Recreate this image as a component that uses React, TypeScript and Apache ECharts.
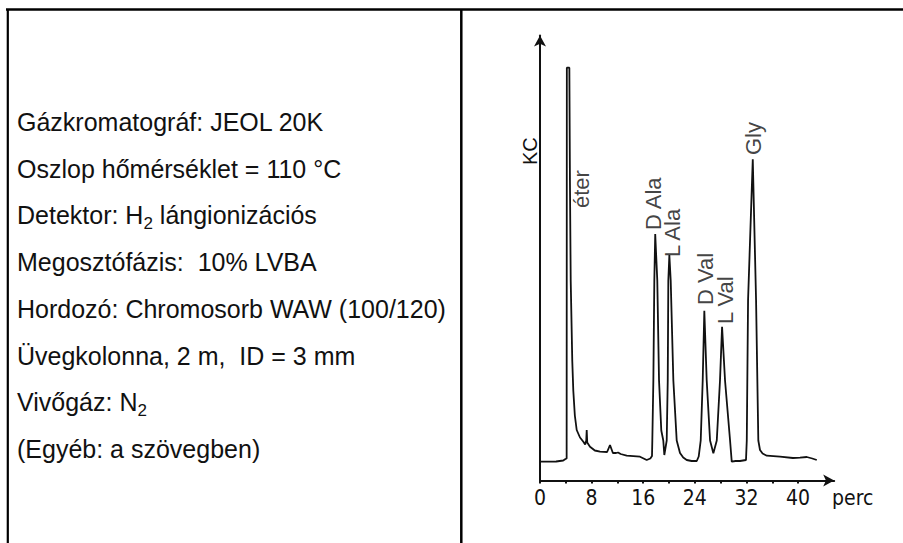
import React, { useEffect, useRef } from 'react';
import * as echarts from 'echarts';

// ---- data ----
const retentionTimes = [
  0, 2.5, 3.6, 3.95, 4.13, 4.16, 4.55, 4.64, 4.76, 5.0, 5.16, 5.4, 5.69, 6.2, 6.72, 7.0, 7.17, 7.24, 7.32, 7.75,
  8.5, 9.3, 10.4, 10.85, 11.3, 11.8, 12.1, 12.5, 13.44, 15.5, 16.54, 17.1, 17.36, 17.41, 17.57, 17.72, 17.86,
  18.18, 18.45, 18.8, 19.11, 19.27, 19.64, 19.8, 19.89, 20.05, 20.26, 20.67, 21.19, 21.7, 22.2, 22.74, 23.5,
  24.3, 24.6, 24.91, 25.22, 25.47, 25.84, 26.36, 26.87, 27.4, 27.9, 28.22, 28.68, 29.46, 29.72, 30.3, 31.0,
  31.93, 32.05, 32.25, 32.98, 33.49, 33.84, 34.1, 34.5, 35.15, 37.2, 39.2, 40.3, 41.35, 42.2, 42.9,
];
const detectorSignal = [
  18.8, 19.0, 20.0, 21.5, 22, 412.8, 412.8, 300, 200, 120, 90, 65, 50.5, 43, 38.8, 36, 40, 50.5, 38, 33.8,
  30, 28.8, 28.5, 35.5, 27.5, 27.5, 28, 26.5, 24.8, 23.8, 20.5, 22, 24.5, 40, 100, 200, 246.5,
  200, 100, 50, 40, 25.5, 40, 100, 200, 225.5, 200, 100, 40, 27.5, 23, 20.5, 19.5,
  19.5, 24, 40, 100, 169.8, 100, 40, 27.2, 40, 100, 153.8, 100, 40, 18.8, 19.5, 19.5,
  20.5, 40, 180.5, 321.2, 180.5, 40, 30.5, 27, 24.8, 23.8, 22.5, 22.8, 23.5, 22, 20.5,
];
const peakNames = ['éter', 'D Ala', 'L Ala', 'D Val', 'L Val', 'Gly'];
const peakLabelTimes = [6.43, 17.67, 20.61, 25.58, 28.83, 33.17];
const peakLabelSignals = [272.5, 250.5, 223.5, 175.5, 156.5, 325.5];
const xTickLabels = [0, 8, 16, 24, 32, 40];
const xAxisName = 'perc';
const yAxisName = 'KC';
// each line: [normal, subscript, normal, ...]
const infoLines: string[][] = [
  ['Gázkromatográf: JEOL 20K'],
  ['Oszlop hőmérséklet = 110 °C'],
  ['Detektor: H', '2', ' lángionizációs'],
  ['Megosztófázis:  10% LVBA'],
  ['Hordozó: Chromosorb WAW (100/120)'],
  ['Üvegkolonna, 2 m,  ID = 3 mm'],
  ['Vivőgáz: N', '2'],
  ['(Egyéb: a szövegben)'],
];

const INK = '#111';
const SANS = '"Liberation Sans", Arial, Helvetica, sans-serif';
const NARROW = '"Liberation Sans Narrow", "DejaVu Sans Condensed", "Liberation Sans", sans-serif';

export default function App() {
  const ref = useRef<HTMLDivElement>(null);
  useEffect(() => {
    if (!ref.current) return;
    const chart = echarts.init(ref.current, undefined, { renderer: 'svg' });

    const canvas = document.createElement('canvas');
    const ctx = canvas.getContext('2d')!;
    const mainSize = 25;
    const subSize = 17;
    const measure = (t: string, size: number) => {
      ctx.font = `${size}px ${SANS}`;
      return ctx.measureText(t).width;
    };

    const textEls: any[] = [];
    infoLines.forEach((segs, i) => {
      const cy = 122 + i * 46.7;
      let x = 17;
      segs.forEach((s, j) => {
        const sub = j % 2 === 1;
        const size = sub ? subSize : mainSize;
        textEls.push({
          type: 'text',
          x,
          y: sub ? cy + 8 : cy,
          style: {
            text: s,
            fill: INK,
            font: `${size}px ${SANS}`,
            align: 'left',
            verticalAlign: 'middle',
          },
        });
        x += measure(s, size);
      });
    });

    const pxPerMin = 6.4516;
    const left = 540;
    const top = 35.5;
    const bottom = 62.5;
    const maxT = 45.6;

    const option: any = {
      animation: false,
      grid: [
        { left, top, bottom, width: maxT * pxPerMin },
        { left, top, bottom, width: 40 * pxPerMin },
      ],
      xAxis: [
        {
          gridIndex: 0,
          type: 'value',
          min: 0,
          max: maxT,
          axisLine: { show: true, lineStyle: { color: INK, width: 2 }, symbol: ['none', 'arrow'], symbolSize: [9, 11] },
          axisTick: { show: false },
          axisLabel: { show: false },
          splitLine: { show: false },
        },
        {
          gridIndex: 1,
          type: 'value',
          min: 0,
          max: 40,
          interval: 4,
          axisLine: { show: false },
          axisTick: { show: true, length: 3, lineStyle: { color: INK, width: 2 } },
          axisLabel: {
            color: INK,
            fontSize: 21,
            fontFamily: NARROW,
            margin: 7,
            formatter: (v: number) => (xTickLabels.includes(v) ? String(v) : ''),
          },
          splitLine: { show: false },
          name: xAxisName,
          nameLocation: 'end',
          nameGap: 34,
          nameTextStyle: { color: INK, fontSize: 21, fontFamily: NARROW, verticalAlign: 'top', padding: [7, 0, 0, 0] },
        },
      ],
      yAxis: [
        {
          gridIndex: 0,
          type: 'value',
          min: 0,
          max: 445,
          axisLine: { show: true, lineStyle: { color: INK, width: 2 }, symbol: ['none', 'arrow'], symbolSize: [9, 11] },
          axisTick: { show: false },
          axisLabel: { show: false },
          splitLine: { show: false },
        },
        { gridIndex: 1, type: 'value', min: 0, max: 445, show: false },
      ],
      series: [
        {
          type: 'line',
          xAxisIndex: 0,
          yAxisIndex: 0,
          data: retentionTimes.map((t, i) => [t, detectorSignal[i]]),
          showSymbol: false,
          symbol: 'none',
          lineStyle: { color: INK, width: 1.8 },
          silent: true,
        },
        {
          type: 'scatter',
          xAxisIndex: 0,
          yAxisIndex: 0,
          symbolSize: 0,
          data: peakNames.map((n, i) => ({ name: n, value: [peakLabelTimes[i], peakLabelSignals[i]] })),
          label: {
            show: true,
            position: 'inside',
            formatter: '{b}',
            rotate: 90,
            align: 'left',
            verticalAlign: 'middle',
            color: INK,
            fontSize: 22,
            fontFamily: SANS,
          },
          silent: true,
        },
      ],
      graphic: [
        { type: 'line', shape: { x1: 6, y1: 9.5, x2: 903, y2: 9.5 }, style: { stroke: '#000', lineWidth: 2.5 } },
        { type: 'line', shape: { x1: 7.8, y1: 9, x2: 7.8, y2: 543 }, style: { stroke: '#000', lineWidth: 2.2 } },
        { type: 'line', shape: { x1: 461.3, y1: 9, x2: 461.3, y2: 543 }, style: { stroke: '#000', lineWidth: 2.5 } },
        {
          type: 'text',
          x: 530,
          y: 165,
          rotation: Math.PI / 2,
          style: { text: yAxisName, fill: INK, font: `20px ${SANS}`, align: 'left', verticalAlign: 'middle' },
        },
        ...textEls,
      ],
    };
    chart.setOption(option);
    return () => chart.dispose();
  }, []);
  return <div ref={ref} style={{ position: 'absolute', left: 0, top: 0, width: 903, height: 543, background: '#fff' }} />;
}
